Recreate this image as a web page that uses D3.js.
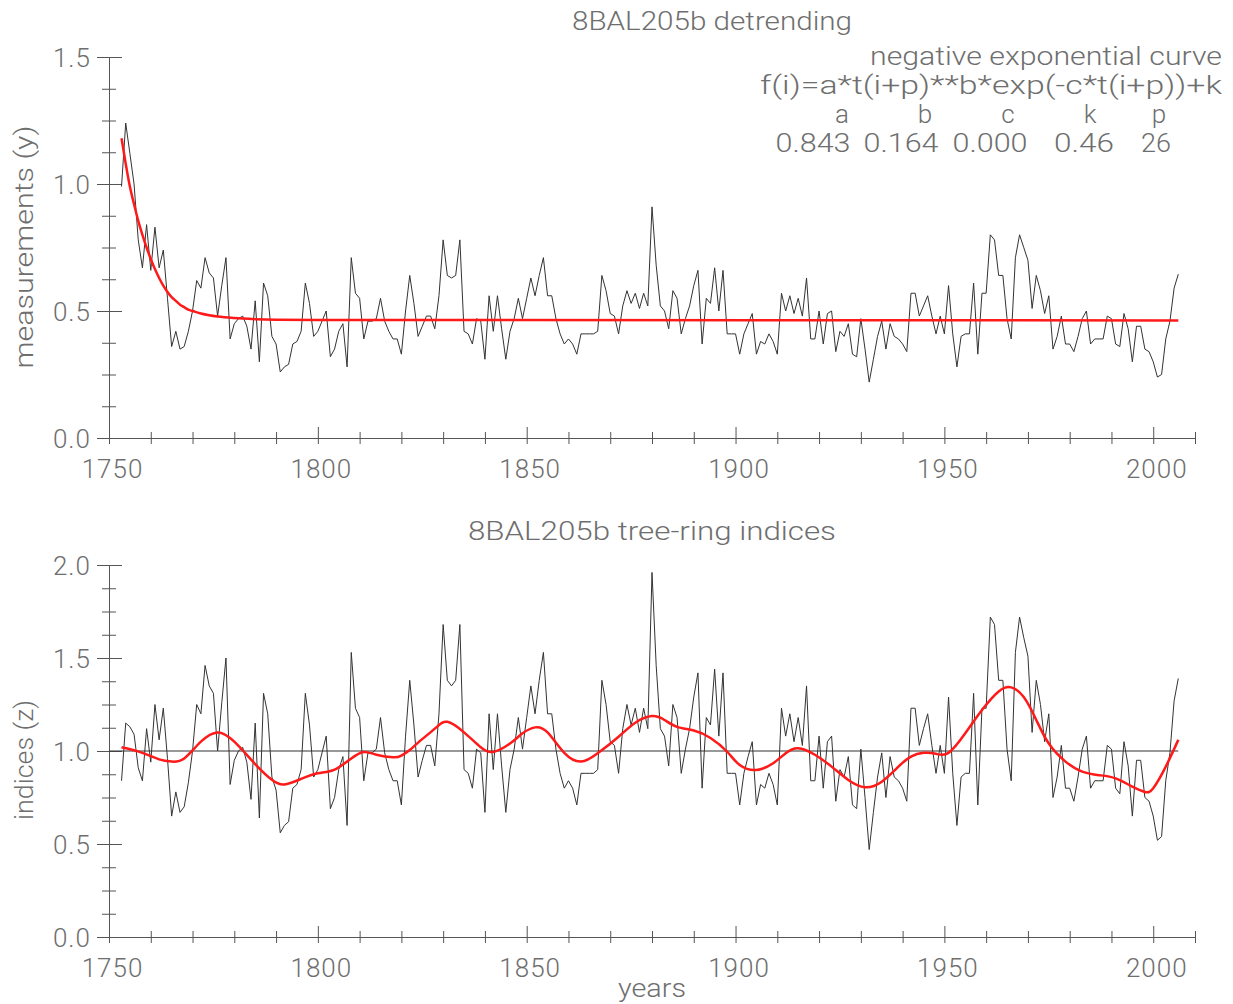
<!DOCTYPE html>
<html><head><meta charset="utf-8">
<script src="https://cdn.jsdelivr.net/npm/d3@7"></script>
<style>
body{margin:0;background:#fff}
svg text{font-family:Roboto,"DejaVu Sans",sans-serif;font-weight:300;fill:#6e6e6e}
</style></head><body>
<svg id="c" width="1233" height="1004"></svg>
<script>
// ---------------- data ----------------
const firstYear = 1753;
const measurements = [
0.99,1.24,1.12,1.00,0.78,0.67,0.84,0.66,0.83,0.67,
0.74,0.55,0.36,0.42,0.35,0.36,0.42,0.50,0.62,0.59,
0.71,0.65,0.63,0.48,0.60,0.71,0.39,0.45,0.47,0.48,
0.44,0.35,0.54,0.30,0.61,0.56,0.40,0.37,0.26,0.28,
0.29,0.37,0.38,0.42,0.61,0.53,0.40,0.42,0.46,0.50,
0.32,0.35,0.42,0.45,0.28,0.71,0.57,0.55,0.39,0.46,
0.46,0.47,0.55,0.46,0.42,0.39,0.39,0.33,0.50,0.64,
0.53,0.40,0.44,0.48,0.48,0.43,0.56,0.78,0.64,0.63,
0.64,0.78,0.42,0.41,0.37,0.47,0.46,0.31,0.56,0.42,
0.56,0.43,0.31,0.42,0.47,0.55,0.47,0.55,0.63,0.56,
0.64,0.71,0.56,0.56,0.47,0.41,0.37,0.39,0.37,0.33,
0.41,0.41,0.41,0.41,0.42,0.64,0.58,0.49,0.48,0.41,
0.52,0.58,0.53,0.57,0.51,0.57,0.52,0.91,0.68,0.52,
0.50,0.43,0.58,0.55,0.41,0.47,0.52,0.60,0.66,0.37,
0.55,0.53,0.67,0.50,0.66,0.41,0.41,0.41,0.33,0.41,
0.45,0.49,0.33,0.38,0.37,0.41,0.38,0.33,0.57,0.50,
0.56,0.49,0.55,0.48,0.63,0.39,0.39,0.50,0.37,0.49,
0.50,0.34,0.42,0.40,0.45,0.33,0.32,0.47,0.35,0.22,
0.31,0.40,0.46,0.35,0.45,0.40,0.39,0.37,0.34,0.57,
0.57,0.48,0.52,0.56,0.48,0.41,0.48,0.41,0.60,0.41,
0.28,0.40,0.41,0.41,0.61,0.33,0.57,0.57,0.80,0.78,
0.64,0.64,0.47,0.39,0.71,0.80,0.75,0.70,0.51,0.64,
0.58,0.49,0.56,0.35,0.40,0.48,0.37,0.37,0.34,0.40,
0.47,0.50,0.37,0.39,0.39,0.39,0.48,0.47,0.37,0.36,
0.49,0.43,0.30,0.44,0.44,0.35,0.34,0.30,0.24,0.25,
0.39,0.46,0.59,0.645];
const indices = [
0.84,1.15,1.13,1.09,0.91,0.84,1.12,0.94,1.25,1.06,
1.23,0.96,0.65,0.78,0.67,0.70,0.83,1.00,1.25,1.20,
1.46,1.35,1.31,1.00,1.26,1.50,0.82,0.95,1.00,1.02,
0.94,0.74,1.15,0.64,1.31,1.20,0.86,0.79,0.56,0.60,
0.62,0.80,0.82,0.90,1.31,1.14,0.86,0.90,0.99,1.08,
0.69,0.75,0.90,0.97,0.60,1.53,1.23,1.18,0.84,0.99,
0.99,1.01,1.18,0.99,0.90,0.84,0.84,0.71,1.08,1.38,
1.14,0.86,0.95,1.03,1.03,0.92,1.20,1.68,1.38,1.35,
1.38,1.68,0.90,0.88,0.80,1.01,0.99,0.67,1.20,0.90,
1.20,0.92,0.67,0.90,1.01,1.18,1.01,1.18,1.35,1.20,
1.38,1.53,1.20,1.20,1.01,0.88,0.80,0.84,0.80,0.71,
0.88,0.88,0.88,0.88,0.90,1.38,1.25,1.05,1.03,0.88,
1.12,1.25,1.14,1.23,1.10,1.23,1.12,1.96,1.46,1.12,
1.08,0.92,1.25,1.18,0.88,1.01,1.12,1.29,1.42,0.80,
1.18,1.14,1.44,1.08,1.42,0.88,0.88,0.88,0.71,0.88,
0.97,1.05,0.71,0.82,0.80,0.88,0.82,0.71,1.23,1.08,
1.20,1.05,1.18,1.03,1.35,0.84,0.84,1.08,0.80,1.05,
1.08,0.73,0.90,0.86,0.97,0.71,0.69,1.01,0.75,0.47,
0.67,0.86,0.99,0.75,0.97,0.86,0.84,0.80,0.73,1.23,
1.23,1.03,1.12,1.20,1.03,0.88,1.03,0.88,1.29,0.88,
0.60,0.86,0.88,0.88,1.31,0.71,1.23,1.23,1.72,1.68,
1.38,1.38,1.01,0.84,1.53,1.72,1.61,1.51,1.10,1.38,
1.25,1.05,1.20,0.75,0.86,1.03,0.80,0.80,0.73,0.86,
1.01,1.08,0.80,0.84,0.84,0.84,1.03,1.01,0.80,0.77,
1.05,0.92,0.65,0.95,0.95,0.75,0.73,0.65,0.52,0.54,
0.84,0.99,1.27,1.39];
const fitYears  = [1753,1754,1755,1756,1757,1758,1759,1760,1761,1762,1763,1764,1765,1766,1767,1768,1769,1770,1772,1774,1776,1780,1785,1790,1800,2006];
const fitValues = [1.18,1.08,0.99,0.92,0.855,0.80,0.75,0.705,0.665,0.63,0.60,0.575,0.555,0.54,0.525,0.515,0.505,0.50,0.49,0.483,0.478,0.472,0.468,0.466,0.465,0.463];
const splineYears  = [1753,1758,1762,1765,1768,1772,1776,1780,1785,1789,1792,1796,1800,1804,1808,1811,1814,1818,1820,1822,1824,1828,1831,1835,1839,1842,1846,1849,1852,1855,1859,1863,1867,1872,1876,1880,1883,1886,1890,1894,1898,1901,1905,1909,1912,1915,1919,1923,1927,1931,1935,1939,1942,1945,1948,1951,1955,1959,1963,1966,1969,1972,1975,1979,1983,1987,1991,1995,1998,2000,2003,2006];
const splineValues = [1.02,0.99,0.955,0.943,0.96,1.05,1.10,1.05,0.93,0.845,0.82,0.85,0.88,0.90,0.96,0.995,0.98,0.966,0.975,1.005,1.045,1.12,1.157,1.10,1.02,0.995,1.04,1.095,1.127,1.10,0.99,0.943,0.988,1.077,1.152,1.188,1.167,1.13,1.11,1.07,0.996,0.925,0.898,0.934,0.988,1.015,0.98,0.916,0.844,0.805,0.835,0.916,0.97,0.99,0.985,0.99,1.095,1.22,1.32,1.342,1.29,1.167,1.04,0.943,0.889,0.87,0.853,0.808,0.78,0.80,0.916,1.06];
const xMajorTicks = [1750,1800,1850,1900,1950,2000];
const xTickLabels = ["1750","1800","1850","1900","1950","2000"];
const xMinorTicks = [1760,1770,1780,1790,1810,1820,1830,1840,1860,1870,1880,1890,1910,1920,1930,1940,1960,1970,1980,1990,2010];
const topYTicks = [0,0.5,1.0,1.5];
const topYLabels = ["0.0","0.5","1.0","1.5"];
const topYMinor = [0.125,0.25,0.375,0.625,0.75,0.875,1.125,1.25,1.375];
const botYTicks = [0,0.5,1.0,1.5,2.0];
const botYLabels = ["0.0","0.5","1.0","1.5","2.0"];
const botYMinor = [0.125,0.25,0.375,0.625,0.75,0.875,1.125,1.25,1.375,1.625,1.75,1.875];
const paramNames = ["a","b","c","k","p"];
const paramValues = ["0.843","0.164","0.000","0.46","26"];

// ---------------- drawing ----------------
const svg = d3.select('#c');
const axisColor = '#555';
const x = d3.scaleLinear().domain([1750,2010]).range([109,1195]);
const yTop = d3.scaleLinear().domain([0,1.5]).range([438,57]);
const yBot = d3.scaleLinear().domain([0,2]).range([937,565]);
const years = measurements.map((_,i)=>firstYear+i);

function xAxis(y0){
  const gm = svg.append('g').attr('transform',`translate(0,${y0})`)
    .call(d3.axisBottom(x).tickValues(xMinorTicks).tickSize(0).tickSizeOuter(0).tickFormat(''));
  gm.select('.domain').remove();
  gm.selectAll('.tick line').attr('y1',-6).attr('y2',6).attr('stroke',axisColor);
  const g = svg.append('g').attr('transform',`translate(0,${y0})`)
    .call(d3.axisBottom(x).tickValues(xMajorTicks).tickSizeOuter(0).tickFormat((d,i)=>xTickLabels[i]));
  g.select('.domain').attr('stroke',axisColor);
  g.selectAll('.tick line').attr('y1',-11).attr('y2',6).attr('stroke',axisColor);
  g.selectAll('.tick text').attr('y',40).attr('dy',null).attr('dx',3)
    .style('font-size','26px').style('letter-spacing','1px');
}
function yAxis(y, ticks, labels, minors){
  const gm = svg.append('g').attr('transform',`translate(${x(1750)},0)`)
    .call(d3.axisLeft(y).tickValues(minors).tickSize(0).tickSizeOuter(0).tickFormat(''));
  gm.select('.domain').remove();
  gm.selectAll('.tick line').attr('x1',-7).attr('x2',7).attr('stroke',axisColor);
  const g = svg.append('g').attr('transform',`translate(${x(1750)},0)`)
    .call(d3.axisLeft(y).tickValues(ticks).tickSizeOuter(0).tickFormat((d,i)=>labels[i]));
  g.select('.domain').attr('stroke',axisColor);
  g.selectAll('.tick line').attr('x1',-12).attr('x2',13).attr('stroke',axisColor);
  g.selectAll('.tick text').attr('x',-18).attr('dy','0.36em')
    .style('font-size','26px').style('letter-spacing','1px');
}

// top panel
xAxis(yTop(0));
yAxis(yTop, topYTicks, topYLabels, topYMinor);
svg.append('path').datum(measurements)
  .attr('fill','none').attr('stroke','#333').attr('stroke-width',1)
  .attr('d', d3.line().x((d,i)=>x(years[i])).y(d=>yTop(d)));
svg.append('path').datum(fitValues)
  .attr('fill','none').attr('stroke','#ff1a1a').attr('stroke-width',2.5)
  .attr('d', d3.line().curve(d3.curveMonotoneX).x((d,i)=>x(fitYears[i])).y(d=>yTop(d)));

// bottom panel
xAxis(yBot(0));
yAxis(yBot, botYTicks, botYLabels, botYMinor);
svg.append('line').attr('x1',x(1750)).attr('x2',x(years[years.length-1]))
  .attr('y1',yBot(1)).attr('y2',yBot(1)).attr('stroke','#333').attr('stroke-width',1);
svg.append('path').datum(indices)
  .attr('fill','none').attr('stroke','#333').attr('stroke-width',1)
  .attr('d', d3.line().x((d,i)=>x(years[i])).y(d=>yBot(d)));
svg.append('path').datum(splineValues)
  .attr('fill','none').attr('stroke','#ff1a1a').attr('stroke-width',2.5)
  .attr('d', d3.line().curve(d3.curveNatural).x((d,i)=>x(splineYears[i])).y(d=>yBot(d)));

// texts
function txt(s, tx, ty, opts={}){
  const t = svg.append('text').attr('x',tx).attr('y',ty).text(s)
    .attr('text-anchor', opts.anchor||'middle').style('font-size',(opts.size||26)+'px');
  if(opts.len) t.attr('textLength',opts.len).attr('lengthAdjust','spacingAndGlyphs');
  if(opts.rot) t.attr('transform',`rotate(-90 ${tx} ${ty})`);
  return t;
}
txt('8BAL205b detrending', 712, 30, {len:280});
txt('negative exponential curve', 1222, 65, {anchor:'end', len:352});
txt('f(i)=a*t(i+p)**b*exp(-c*t(i+p))+k', 1222, 94, {anchor:'end', len:462});
const nameX = [842,925,1008,1090,1159];
const valX = [813,901,990,1084,1156];
paramNames.forEach((n,i)=>txt(n, nameX[i], 123));
paramValues.forEach((v,i)=>txt(v, valX[i], 152, {len: v.length*15}));
txt('8BAL205b tree-ring indices', 652, 540, {len:368});
txt('years', 652, 997, {len:68});
txt('measurements (y)', 33, 247, {rot:true, len:243});
txt('indices (z)', 33, 760, {rot:true, len:120});
</script>
</body></html>
